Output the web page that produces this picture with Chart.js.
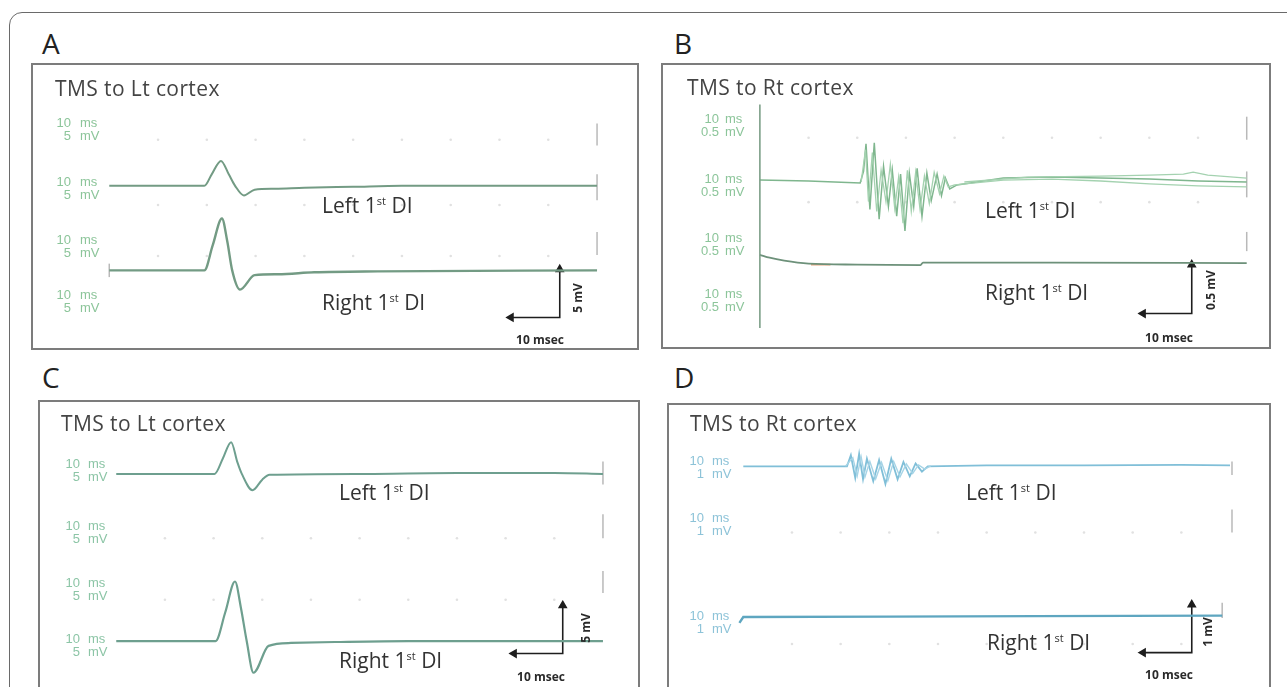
<!DOCTYPE html>
<html>
<head>
<meta charset="utf-8">
<script src="https://cdn.jsdelivr.net/npm/chart.js@4.4.1/dist/chart.umd.min.js"></script>
<style>
  body { margin: 0; background: #fff; }
  #page { position: relative; width: 1287px; height: 687px; overflow: hidden; font-family: "Open Sans", sans-serif; }
  .outer { position: absolute; left: 9px; top: 12px; width: 1330px; height: 730px; border: 1.5px solid #6a6a6a; border-radius: 13px; }
  .box { position: absolute; border: 2px solid #7c7c7c; box-sizing: border-box; background: #fff; }
  .box canvas { position: absolute; left: 0; top: 0; }
  .t { position: absolute; white-space: nowrap; line-height: 1; transform: translateY(-50%); }
  .letter { font-size: 28px; color: #222; }
  .title { font-size: 21px; color: #444; letter-spacing: 0.4px; }
  .name { font-size: 21px; color: #333; }
  .name sup { font-size: 11px; vertical-align: 8px; }
  .ch { font-family: "Liberation Sans", sans-serif; font-size: 13px; }
  .num { text-align: right; width: 40px; }
  .bar { font-size: 12px; font-weight: 700; color: #2a2a2a; }
  .rot { transform: translate(-50%, -50%) rotate(-90deg); }
</style>
</head>
<body>
<div id="page">
  <div class="outer"></div>
</div>
<script>
// time in ms after the TMS pulse, amplitude in mV (baseline = 0)

// A: TMS to Lt cortex, 5 mV
const tA_left  = [0, 19.5, 21, 22.9, 24.5, 25.8, 27.6, 29.8, 34, 40, 50, 60, 80, 100];
const vA_left  = [0, 0, 1.2, 2.6, 1.2, 0, -1.0, -0.4, -0.3, -0.2, -0.1, 0, 0, 0];
const tA_right = [0, 19.5, 21.2, 23.1, 24.2, 25.2, 26.8, 29.8, 34.6, 42, 55, 100];
const vA_right = [0, 0, 2.6, 5.4, 3.0, 0, -2.0, -0.5, -0.4, -0.2, -0.1, 0];

// B: TMS to Rt cortex, 0.5 mV (several superimposed sweeps)
const tB_left  = [0, 10, 20.6, 21.3, 21.8, 22.6, 23.5, 24.5, 25.4, 26.4, 27.2, 28.1, 28.9, 29.8, 30.7, 31.6,
                  32.3, 33.3, 34.3, 35.2, 36.4, 37.3, 38.1, 39.0, 40.5, 50, 60, 70, 80, 90, 100];
const vB_left  = [0.02, 0.01, -0.01, 0.11, 0.39, -0.28, 0.40, -0.38, 0.16, -0.25, 0.12, -0.35, 0.08, -0.50, 0.09, -0.25,
                  0.14, -0.35, 0.09, -0.19, 0.08, -0.14, 0.04, -0.07, -0.03, 0.04, 0.05, 0.04, 0.03, 0.01, 0.0];
const tB_left2 = [20.8, 21.7, 22.3, 23.1, 24.0, 24.9, 25.9, 26.8, 27.7, 28.5, 29.4, 30.3, 31.1, 32.0, 32.9, 33.8,
                  34.8, 35.8, 36.9, 37.8, 38.7, 40, 50, 60, 70, 80, 90, 100];
const vB_left2 = [0, 0.33, -0.2, 0.3, -0.3, 0.12, -0.2, 0.18, -0.27, 0.05, -0.42, 0.12, -0.3, 0.1, -0.28, 0.06,
                  -0.22, 0.1, -0.12, 0.06, -0.05, -0.03, 0.02, 0.03, 0.01, -0.02, -0.04, -0.05];
const tB_left3 = [42, 55, 70, 80, 87, 89, 92, 100];
const vB_left3 = [0, 0.05, 0.06, 0.07, 0.08, 0.1, 0.07, 0.04];
const tB_right = [0, 2, 5, 10, 20, 33, 33.5, 60, 100];
const vB_right = [0.09, 0.06, 0.03, 0.0, -0.01, -0.015, 0.01, 0.01, 0.005];
const tB_speck = [10.5, 14.5];
const vB_speck = [-0.01, -0.01];
const vB_artifact = [0.79, -1.49];

// C: TMS to Lt cortex, 5 mV
const tC_left  = [0, 20.2, 21.9, 23.6, 24.9, 25.8, 28.0, 30, 31.5, 50, 70, 90, 100];
const vC_left  = [0, 0, 1.6, 3.3, 1.2, 0, -1.7, -0.6, -0.1, 0, 0.1, 0.1, 0];
const tC_right = [0, 20.4, 22.4, 24.4, 25.6, 26.8, 28.2, 31.3, 35.9, 45, 60, 100];
const vC_right = [0, 0, 3.0, 6.2, 3.5, 0, -3.3, -0.5, -0.2, -0.1, 0, 0];

// D: TMS to Rt cortex, 1 mV
const tD_left  = [0, 21.3, 22.1, 23.0, 23.8, 24.6, 25.4, 26.7, 27.9, 29.2, 30.4, 31.7, 32.9, 34.2, 35.4, 36.7, 37.9, 50, 70, 90, 100];
const vD_left  = [0, 0, 0.23, -0.24, 0.26, -0.27, 0.16, -0.31, 0.13, -0.37, 0.16, -0.27, 0.09, -0.21, 0.06, -0.11, 0, 0.02, 0.02, 0.03, 0.02];
const tD_left2 = [21.0, 22.5, 23.4, 24.2, 25.0, 26.0, 27.2, 28.4, 29.7, 30.9, 32.2, 33.5, 34.8, 36.0, 37.3, 38.5];
const vD_left2 = [0, 0.18, -0.2, 0.2, -0.22, 0.1, -0.26, 0.08, -0.3, 0.1, -0.22, 0.05, -0.15, 0.03, -0.06, 0.01];
const tD_right = [-0.8, 0, 30, 60, 98.4];
const vD_right = [-0.12, 0, 0.01, 0.02, 0.03];

// scale bars: 10 ms horizontal, channel gain vertical
const barMs = 10;
const barMv = { A: 5, B: 0.5, C: 5, D: 1 };

// layout (page pixels)
const panels = {
  A: { box: [31, 63, 639, 350], t0px: 105, pxMs: 4.97, base: 185, base2: 273, ppm: 10,
       bar: [564, 322], dots: [137, 205, 258],
       brackets: [[602, 120, 143], [602, 173, 200], [602, 233, 257], [105, 266, 280]],
       c1: '#739b84', c2: '#739b84', lab: '#8cc59a' },
  B: { box: [661, 63, 1271, 349], t0px: 756, pxMs: 4.96, base: 181, base2: 266, ppm: 102,
       bar: [1196, 318], dots: [135, 202],
       brackets: [[1252, 113, 137], [1252, 170, 197], [1252, 233, 253]],
       c1: '#7fb68e', c2: '#6d917a', lab: '#8cc59a' },
  C: { box: [38, 400, 640, 689], t0px: 112, pxMs: 4.96, base: 471, base2: 645, ppm: 10,
       bar: [567, 658], dots: [538, 602],
       brackets: [[608, 458, 482], [608, 513, 538], [608, 572, 595]],
       c1: '#6e9f8f', c2: '#6e9f8f', lab: '#8cc5a6' },
  D: { box: [667, 403, 1271, 689], t0px: 739, pxMs: 4.96, base: 463, base2: 620, ppm: 50,
       bar: [1196, 657], dots: [532, 648],
       brackets: [[1237, 458, 472], [1237, 508, 532], [1227, 605, 621]],
       c1: '#80bfd8', c2: '#5ea6c0', lab: '#8dc3d8' }
};

const pts = (t, v, off) => t.map((ti, i) => ({ x: ti, y: v[i] + off }));

const deco = {
  id: 'deco',
  beforeDatasetsDraw(chart, args, o) {
    const { ctx, scales: { x, y } } = chart;
    ctx.save();
    ctx.fillStyle = '#e1e1e1';
    o.dots.forEach(r => {
      for (let t = 10; t < 100; t += 10) {
        ctx.beginPath();
        ctx.arc(x.getPixelForValue(t), y.getPixelForValue(r), 1.3, 0, Math.PI * 2);
        ctx.fill();
      }
    });
    ctx.strokeStyle = '#b9b9b9';
    ctx.lineWidth = 1.5;
    o.brackets.forEach(b => {
      const px = x.getPixelForValue(b[0]);
      ctx.beginPath();
      ctx.moveTo(px, y.getPixelForValue(b[1]));
      ctx.lineTo(px, y.getPixelForValue(b[2]));
      ctx.stroke();
    });
    ctx.restore();
  }
};

const page = document.getElementById('page');

function makePanel(key, traces) {
  const p = panels[key];
  const [l, t, r, b] = p.box;
  const box = document.createElement('div');
  box.className = 'box';
  Object.assign(box.style, { left: l + 'px', top: t + 'px', width: (r - l) + 'px', height: (b - t) + 'px' });
  const cv = document.createElement('canvas');
  const cl = l + 2, ct = t + 2, cw = r - l - 4, ch = b - t - 4;
  cv.width = cw; cv.height = ch;
  box.appendChild(cv);
  page.appendChild(box);

  // pixel -> data helpers (left channel baseline is 0 mV)
  const toMs = px => (px - p.t0px) / p.pxMs;
  const toMv = py => (p.base - py) / p.ppm;
  const off2 = toMv(p.base2);

  const datasets = traces.map(tr => ({
    data: pts(tr.t, tr.v, tr.ch === 2 ? off2 : 0),
    borderColor: tr.color, borderWidth: tr.w || 1.8, pointRadius: 0,
    cubicInterpolationMode: tr.smooth ? 'monotone' : 'default'
  }));
  const bx = toMs(p.bar[0]), by = toMv(p.bar[1]);
  datasets.push({
    data: [{ x: bx - barMs, y: by }, { x: bx, y: by }, { x: bx, y: by + barMv[key] }],
    borderColor: '#1e1e1e', backgroundColor: '#1e1e1e', borderWidth: 1.6,
    pointStyle: 'triangle', pointRadius: [4, 0, 4], pointRotation: [-90, 0, 0]
  });

  new Chart(cv, {
    type: 'line',
    data: { datasets },
    options: {
      responsive: false, animation: false, events: [],
      layout: { padding: 0 },
      scales: {
        x: { type: 'linear', min: toMs(cl), max: toMs(cl + cw), display: false },
        y: { type: 'linear', min: toMv(ct + ch), max: toMv(ct), display: false }
      },
      elements: { line: { tension: 0 } },
      plugins: {
        legend: { display: false }, tooltip: { enabled: false },
        deco: {
          dots: p.dots.map(toMv),
          brackets: p.brackets.map(br => [toMs(br[0]), toMv(br[1]), toMv(br[2])])
        }
      }
    },
    plugins: [deco]
  });
}

makePanel('A', [
  { t: tA_left, v: vA_left, ch: 1, color: panels.A.c1, w: 2, smooth: true },
  { t: tA_right, v: vA_right, ch: 2, color: panels.A.c2, w: 2.4, smooth: true }
]);
makePanel('B', [
  { t: [0, 0], v: vB_artifact, ch: 1, color: '#7d9f88', w: 1.6 },
  { t: tB_left3, v: vB_left3, ch: 1, color: '#a4d2b0', w: 1.3 },
  { t: tB_left2, v: vB_left2, ch: 1, color: '#a4d2b0', w: 1.3 },
  { t: tB_left, v: vB_left, ch: 1, color: panels.B.c1, w: 1.5 },
  { t: tB_right, v: vB_right, ch: 2, color: panels.B.c2, w: 1.8, smooth: true },
  { t: tB_speck, v: vB_speck, ch: 2, color: '#e9a27a', w: 1.6 }
]);
makePanel('C', [
  { t: tC_left, v: vC_left, ch: 1, color: panels.C.c1, w: 2, smooth: true },
  { t: tC_right, v: vC_right, ch: 2, color: panels.C.c2, w: 2.2, smooth: true }
]);
makePanel('D', [
  { t: tD_left2, v: vD_left2, ch: 1, color: '#a6d4e6', w: 1.4 },
  { t: tD_left, v: vD_left, ch: 1, color: panels.D.c1, w: 1.8 },
  { t: tD_right, v: vD_right, ch: 2, color: panels.D.c2, w: 2.4 }
]);

// ---- text ----
function txt(cls, x, y, html, color) {
  const d = document.createElement('div');
  d.className = 't ' + cls;
  d.style.left = x + 'px';
  d.style.top = y + 'px';
  if (color) d.style.color = color;
  d.innerHTML = html;
  page.appendChild(d);
  return d;
}

[['A', 42, 43], ['B', 674, 43], ['C', 42, 377], ['D', 674, 377]].forEach(a => txt('letter', a[1], a[2], a[0]));
[['TMS to Lt cortex', 55, 88], ['TMS to Rt cortex', 687, 87], ['TMS to Lt cortex', 61, 423], ['TMS to Rt cortex', 690, 423]]
  .forEach(a => txt('title', a[1], a[2], a[0]));
[['Left', 322, 205], ['Right', 322, 302], ['Left', 985, 210], ['Right', 985, 292],
 ['Left', 339, 492], ['Right', 339, 660], ['Left', 966, 492], ['Right', 987, 642]]
  .forEach(a => txt('name', a[1], a[2], a[0] + ' 1<sup>st</sup> DI'));

// channel gain labels: "10 ms" over gain
const chRows = {
  A: { numR: 71, unitL: 80, rows: [122, 181, 239, 294] },
  B: { numR: 719, unitL: 725, rows: [118, 178, 237, 293] },
  C: { numR: 80, unitL: 88, rows: [463, 525, 582, 638] },
  D: { numR: 704, unitL: 712, rows: [460, 517, 615] }
};
Object.keys(chRows).forEach(k => {
  const c = chRows[k], col = panels[k].lab;
  c.rows.forEach(y => {
    txt('ch num', c.numR - 40, y, '10', col);
    txt('ch', c.unitL, y, 'ms', col);
    txt('ch num', c.numR - 40, y + 13, String(barMv[k]), col);
    txt('ch', c.unitL, y + 13, 'mV', col);
  });
});

// scale bar captions
[[540, 340], [1169, 338], [541, 677], [1169, 675]].forEach(a => {
  const d = txt('bar', a[0], a[1], '10 msec');
  d.style.transform = 'translate(-50%, -50%)';
});
[['A', 578, 298], ['B', 1211, 290], ['C', 586, 628], ['D', 1208, 632]].forEach(a => {
  const d = txt('bar', a[1], a[2], barMv[a[0]] + ' mV');
  d.classList.add('rot');
});
</script>
</body>
</html>
